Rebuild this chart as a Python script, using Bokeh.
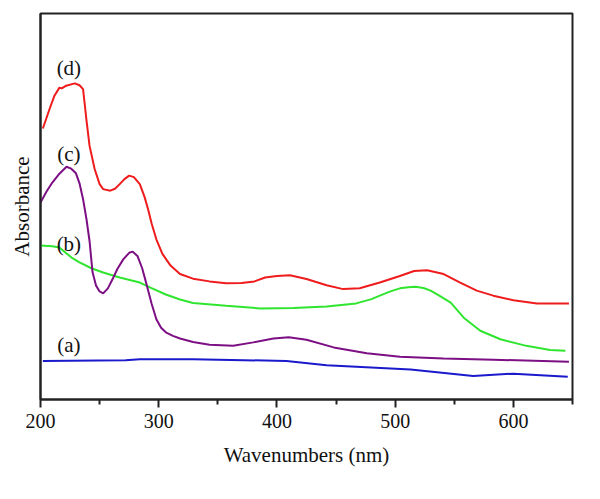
from bokeh.plotting import figure
from bokeh.models import Range1d, FixedTicker, ColumnDataSource
from bokeh.core.properties import value
from bokeh.embed import file_html
from bokeh.resources import INLINE

# (a) blue
a_x = [202, 272, 284, 329, 408, 442, 513, 566, 600, 646]
a_y = [0.100, 0.102, 0.104, 0.104, 0.100, 0.089, 0.078, 0.061, 0.067, 0.059]

# (b) green
b_x = [200, 210, 216, 221, 227, 233, 243, 253, 267, 284, 293, 306, 318, 329, 357, 386,
       414, 442, 467, 480, 487, 496, 504, 511, 517, 524, 530, 538, 547, 558, 572, 589,
       611, 631, 644]
b_y = [0.399, 0.397, 0.394, 0.381, 0.366, 0.355, 0.340, 0.329, 0.316, 0.303, 0.290,
       0.272, 0.259, 0.250, 0.243, 0.236, 0.237, 0.241, 0.249, 0.260, 0.269, 0.280,
       0.288, 0.291, 0.292, 0.289, 0.282, 0.268, 0.251, 0.212, 0.178, 0.156, 0.139,
       0.128, 0.126]

# (c) purple
c_x = [200, 205, 210, 216, 222, 226, 230, 233, 236, 239, 241.5, 244, 247, 250, 253,
       257, 261, 265, 270, 275, 278, 282, 286, 290, 294, 298, 302, 306, 312, 318, 329,
       343, 363, 380, 397, 410, 425, 448, 476, 504, 541, 583, 647]
c_y = [0.510, 0.538, 0.562, 0.585, 0.603, 0.598, 0.586, 0.560, 0.519, 0.465, 0.410,
       0.330, 0.295, 0.280, 0.275, 0.288, 0.312, 0.338, 0.363, 0.380, 0.383, 0.372,
       0.340, 0.295, 0.248, 0.208, 0.186, 0.174, 0.165, 0.158, 0.149, 0.142, 0.139,
       0.148, 0.158, 0.161, 0.155, 0.135, 0.120, 0.111, 0.106, 0.103, 0.098]

# (d) red
d_x = [202, 207.6, 211.8, 216, 218, 221.7, 229, 233, 236, 238.8, 241.5, 245.8, 250,
       253, 259, 263, 267, 271, 275, 279, 284, 288, 291, 294, 298, 303, 310, 318, 329,
       343, 357, 370, 381, 390, 400, 411, 425, 442, 456, 470, 487, 504, 516, 527, 541,
       555, 569, 583, 600, 620, 647]
d_y = [0.702, 0.752, 0.787, 0.808, 0.806, 0.813, 0.819, 0.814, 0.804, 0.726, 0.657,
       0.597, 0.558, 0.545, 0.541, 0.546, 0.558, 0.571, 0.580, 0.576, 0.558, 0.525,
       0.493, 0.456, 0.415, 0.378, 0.347, 0.325, 0.313, 0.306, 0.301, 0.302, 0.306,
       0.316, 0.320, 0.322, 0.312, 0.296, 0.286, 0.288, 0.303, 0.320, 0.333, 0.335,
       0.325, 0.303, 0.282, 0.269, 0.257, 0.249, 0.249]

label_text = ["(a)", "(b)", "(c)", "(d)"]
label_x = [224, 224, 224, 224]
label_y = [0.142, 0.404, 0.637, 0.860]

x_major = [200, 300, 400, 500, 600]
x_minor = [250, 350, 450, 550, 650]

FONT = "Liberation Serif"
AX = "#222222"

p = figure(width=584, height=483, output_backend="svg", toolbar_location=None,
           x_range=Range1d(200, 650), y_range=Range1d(0, 1),
           min_border_left=40, min_border_right=12, min_border_top=13,
           min_border_bottom=84)

p.xgrid.visible = False
p.ygrid.visible = False
p.outline_line_color = AX
p.outline_line_width = 2
p.background_fill_color = "white"
p.border_fill_color = "white"

p.line(a_x, a_y, color="#1a1acc", line_width=2)
p.line(b_x, b_y, color="#2fe52f", line_width=2)
p.line(c_x, c_y, color="#7d0f84", line_width=2)
p.line(d_x, d_y, color="#ee1c1c", line_width=2)

src = ColumnDataSource(dict(x=label_x, y=label_y, t=label_text))
p.text(x="x", y="y", text="t", source=src, text_font=value(FONT),
       text_font_size="21px", text_align="center", text_baseline="middle",
       text_color="#111111")

xa = p.xaxis[0]
xa.ticker = FixedTicker(ticks=x_major, minor_ticks=x_minor)
xa.axis_line_color = AX
xa.axis_line_width = 2
xa.major_tick_line_color = AX
xa.major_tick_line_width = 2
xa.major_tick_in = 0
xa.major_tick_out = 8
xa.minor_tick_line_color = AX
xa.minor_tick_line_width = 2
xa.minor_tick_in = 0
xa.minor_tick_out = 5
xa.major_label_text_font = FONT
xa.major_label_text_font_size = "20px"
xa.major_label_text_color = "#111111"
xa.major_label_standoff = 6
xa.axis_label = "Wavenumbers (nm)"
xa.axis_label_text_font = FONT
xa.axis_label_text_font_size = "21px"
xa.axis_label_text_font_style = "normal"
xa.axis_label_text_color = "#111111"
xa.axis_label_standoff = 12

ya = p.yaxis[0]
ya.ticker = FixedTicker(ticks=[])
ya.axis_line_color = AX
ya.axis_line_width = 2
ya.major_tick_in = 0
ya.major_tick_out = 0
ya.minor_tick_in = 0
ya.minor_tick_out = 0
ya.axis_label = "Absorbance"
ya.axis_label_text_font = FONT
ya.axis_label_text_font_size = "21px"
ya.axis_label_text_font_style = "normal"
ya.axis_label_text_color = "#111111"
ya.axis_label_standoff = 7

open("out.html", "w").write(file_html(p, INLINE))
